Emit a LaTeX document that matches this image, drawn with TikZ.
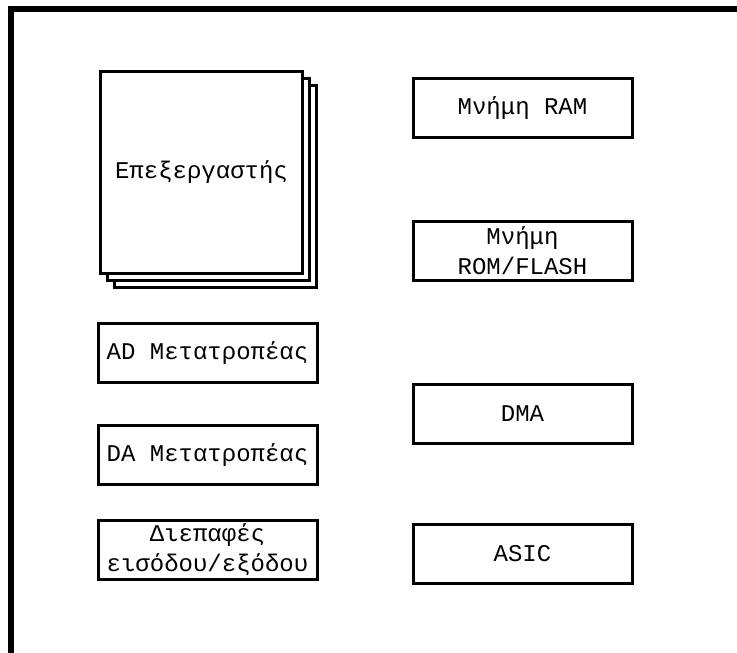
\documentclass[tikz,border=0pt]{standalone}
\usepackage{fontspec}
\setmonofont{Liberation Mono}
\usetikzlibrary{shadows}

\begin{document}
\begin{tikzpicture}[x=1pt, y=-1pt, line join=miter,
  every node/.style={draw, line width=3pt, fill=white, align=center, inner sep=0pt,
    font=\ttfamily\fontsize{24}{30}\selectfont},
  unit/.style={minimum width=219, minimum height=59}]

\useasboundingbox (0,0) rectangle (737,653);

% Frame
\draw[line width=6pt] (11,653) -- (11,9) -- (737,9);

% Nodes
\node[minimum width=202, minimum height=202,
  double copy shadow={shadow xshift=7pt, shadow yshift=-7pt}] (cpu) at (201.5,172.5) {Επεξεργαστής};

\node[unit] (adc) at (207.5,353) {AD Μετατροπέας};
\node[unit] (dac) at (207.5,455) {DA Μετατροπέας};
\node[unit] (io) at (207.5,550) {Διεπαφές\\εισόδου/εξόδου};

\node[unit] (ram) at (522.5,108) {Μνήμη RAM};
\node[unit] (rom) at (522.5,250.5) {Μνήμη\\ROM/FLASH};
\node[unit] (dma) at (522.5,414) {DMA};
\node[unit] (asic) at (522.5,554) {ASIC};

\end{tikzpicture}
\end{document}
